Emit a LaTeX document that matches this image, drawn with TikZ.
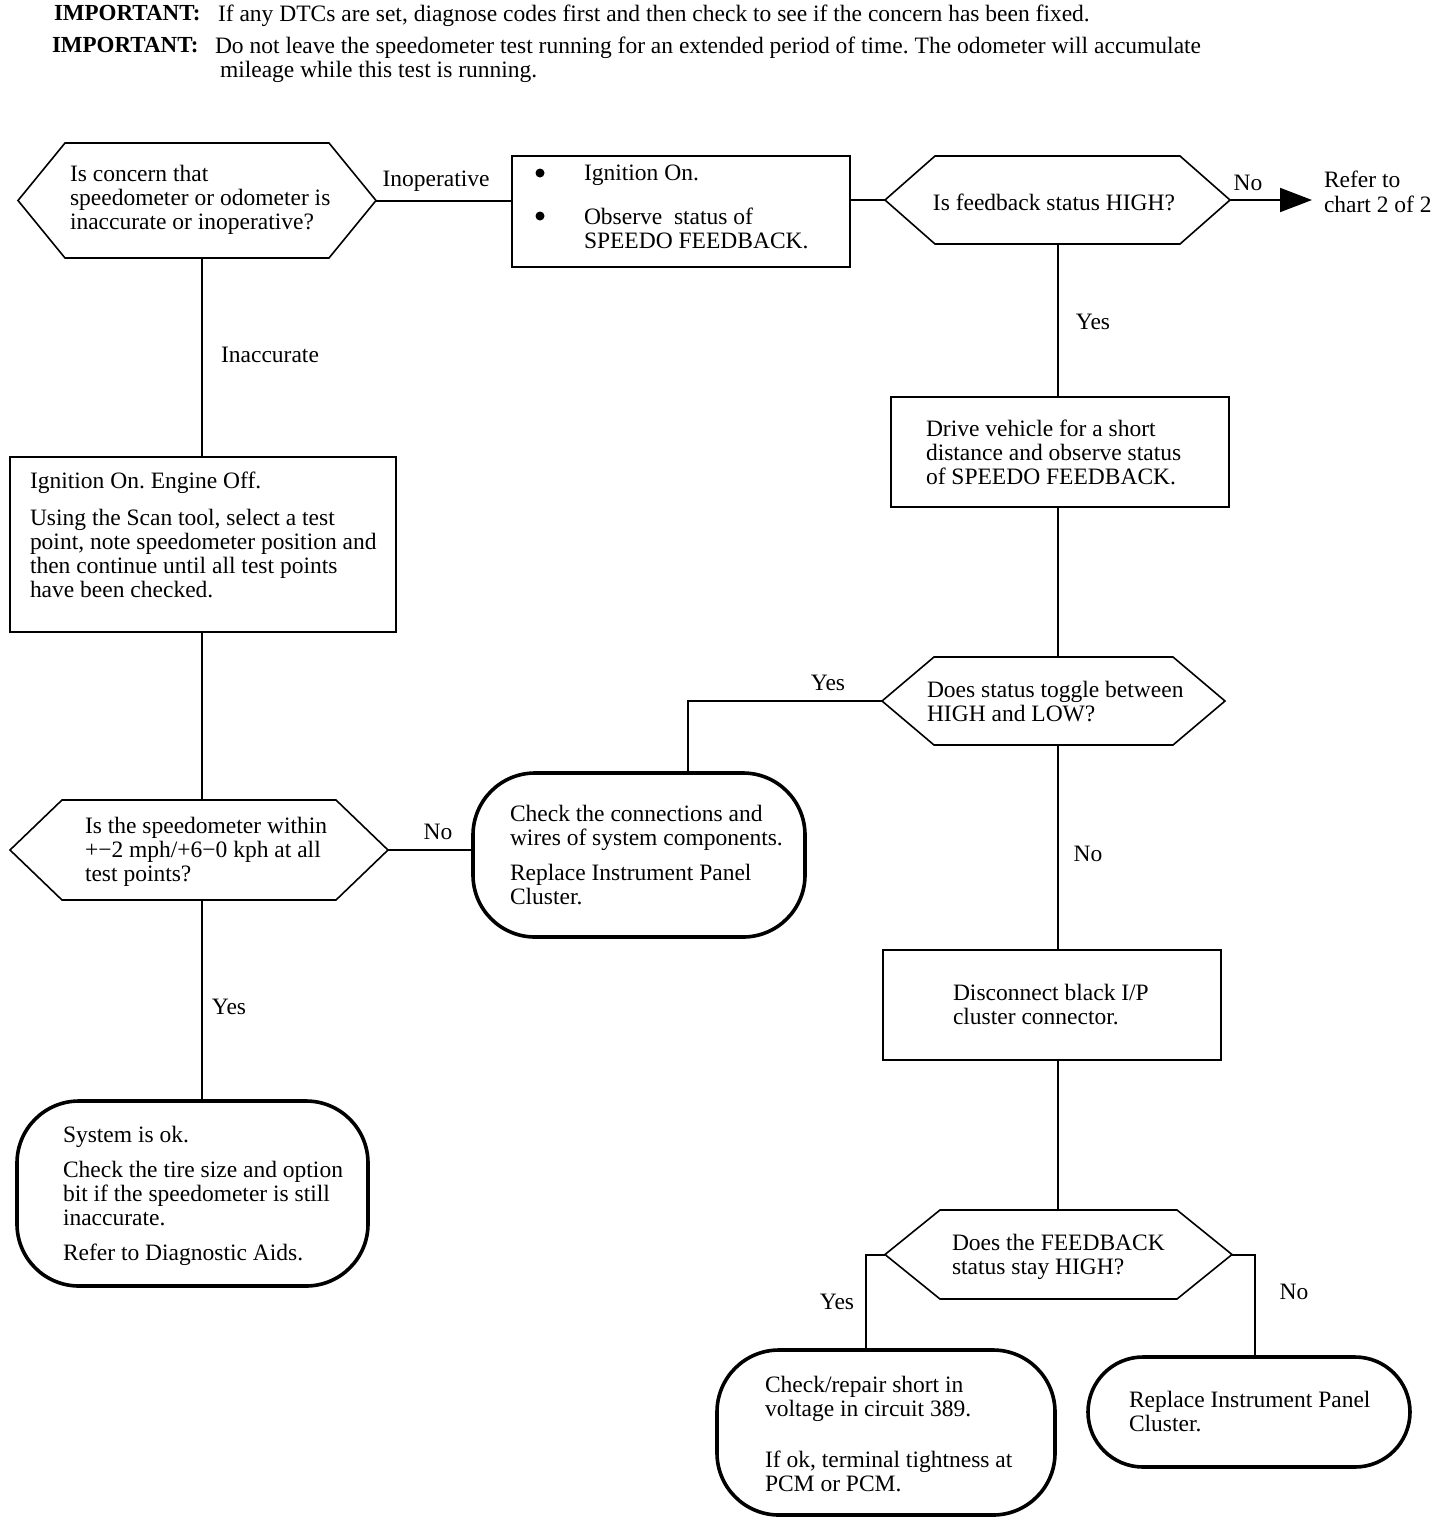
\documentclass[tikz,border=0pt]{standalone}
\usepackage{fontspec}
\setmainfont{Liberation Serif}
\frenchspacing
\usetikzlibrary{arrows.meta,calc}
\tikzset{
  boxline/.style={line width=1.6pt},
  conn/.style={line width=2pt},
  frame/.style={draw=none,inner sep=0pt,outer sep=0pt},
  sqbox/.style={draw,boxline,inner sep=0pt,outer sep=0pt},
  rbox/.style={draw,line width=3.6pt,rounded corners=55pt,inner sep=0pt,outer sep=0pt},
  txt/.style={inner sep=0pt,outer sep=0pt,align=left,anchor=north west,font=\fontsize{23.5}{24}\selectfont},
  lbl/.style={inner sep=0pt,outer sep=0pt,font=\fontsize{23.5}{24}\selectfont},
}
\newcommand\hexof[2]{\draw[boxline,line join=miter] (#1.west) -- ([xshift=#2]#1.north west) -- ([xshift=-#2]#1.north east) -- (#1.east) -- ([xshift=-#2]#1.south east) -- ([xshift=#2]#1.south west) -- cycle;}
\begin{document}
\begin{tikzpicture}[x=1pt,y=-1pt]
\useasboundingbox[fill=white] (0,0) rectangle (1440,1524);

% header
\node[txt,font=\fontsize{23}{24}\selectfont\bfseries] (imp1) at (54,5) {IMPORTANT:};
\node[txt] (imp1t) at (218,5) {If any DTCs are set, diagnose codes first and then check to see if the concern has been fixed.};
\node[txt,font=\fontsize{23}{24}\selectfont\bfseries] (imp2) at (52,37) {IMPORTANT:};
\node[txt] (imp2t) at (215,37) {Do not leave the speedometer test running for an extended period of time. The odometer will accumulate\\\hspace*{5pt}mileage while this test is running.};

% hexagon frames
\node[frame,minimum width=358,minimum height=115] (q1) at (197,200.5) {};
\node[frame,minimum width=345,minimum height=88] (q2) at (1057.5,200) {};
\node[frame,minimum width=343,minimum height=88] (q3) at (1053.5,701) {};
\node[frame,minimum width=347,minimum height=89] (q4) at (1058.5,1254.5) {};
\node[frame,minimum width=378,minimum height=100] (q5) at (199,850) {};
\hexof{q1}{47}
\hexof{q2}{50}
\hexof{q3}{52}
\hexof{q4}{55}
\hexof{q5}{52}

% rectangular boxes
\node[sqbox,minimum width=338,minimum height=111] (b1) at (681,211.5) {};
\node[sqbox,minimum width=386,minimum height=175] (b2) at (203,544.5) {};
\node[sqbox,minimum width=338,minimum height=110] (b3) at (1060,452) {};
\node[sqbox,minimum width=338,minimum height=110] (b4) at (1052,1005) {};

% rounded boxes
\node[rbox,rounded corners=62pt,minimum width=332,minimum height=164] (cc) at (639,855) {};
\node[rbox,rounded corners=62pt,minimum width=351,minimum height=185] (ok) at (192.5,1193.5) {};
\node[rbox,rounded corners=62pt,minimum width=338,minimum height=165] (cr) at (886,1432.5) {};
\node[rbox,minimum width=322,minimum height=110] (rp) at (1249,1412) {};

% texts
\node[txt] (q1t) at (70,165) {Is concern that\\speedometer or odometer is\\inaccurate or inoperative?};
\fill (540,173) circle[radius=4.5pt];
\fill (540,216) circle[radius=4.5pt];
\node[txt] (b1t) at (584,165) {Ignition On.\\[20pt]Observe\ \ status of\\SPEEDO FEEDBACK.};
\node[lbl] (q2t) at (1054,202) {Is feedback status HIGH?};
\node[txt,font=\fontsize{23.5}{25}\selectfont] (ref) at (1324,171) {Refer to\\chart 2 of 2};
\node[txt] (b3t) at (926,420) {Drive vehicle for a short\\distance and observe status\\of SPEEDO FEEDBACK.};
\node[txt] (q3t) at (927,681) {Does status toggle between\\HIGH and LOW?};
\node[txt] (b4t) at (953,984) {Disconnect black I/P\\cluster connector.};
\node[txt] (q4t) at (952,1234) {Does the FEEDBACK\\status stay HIGH?};
\node[txt] (b2t) at (30,472) {Ignition On. Engine Off.\\[13pt]Using the Scan tool, select a test\\point, note speedometer position and\\then continue until all test points\\have been checked.};
\node[txt] (q5t) at (85,817) {Is the speedometer within\\+−2 mph/+6−0 kph at all\\test points?};
\node[txt] (cct) at (510,805) {Check the connections and\\wires of system components.\\[11pt]Replace Instrument Panel\\Cluster.};
\node[txt] (okt) at (63,1126) {System is ok.\\[11pt]Check the tire size and option\\bit if the speedometer is still\\inaccurate.\\[11pt]Refer to Diagnostic Aids.};
\node[txt] (crt) at (765,1376) {Check/repair short in\\voltage in circuit 389.\\[27pt]If ok, terminal tightness at\\PCM or PCM.};
\node[txt] (rpt) at (1129,1391) {Replace Instrument Panel\\Cluster.};

% connector labels
\node[lbl] (l1) at (436,181) {Inoperative};
\node[lbl] (l2) at (270,355) {Inaccurate};
\node[lbl] (l3) at (1248,183) {No};
\node[lbl] (l4) at (1093,322) {Yes};
\node[lbl] (l5) at (828,683) {Yes};
\node[lbl] (l6) at (438,832) {No};
\node[lbl] (l7) at (1088,854) {No};
\node[lbl] (l8) at (229,1007) {Yes};
\node[lbl] (l9) at (837,1302) {Yes};
\node[lbl] (l10) at (1294,1292) {No};

% connectors
\coordinate (arrend) at (1312,200);
\draw[conn] (q1.east) -- (q1.east -| b1.west);
\draw[conn] (b1.east |- q2.west) -- (q2.west);
\draw[conn,-{Triangle[length=32pt,width=24pt]}] (q2.east) -- (arrend);
\draw[conn] (q2.south) -- (q2.south |- b3.north);
\draw[conn] (b3.south -| q2.south) -- (q2.south |- q3.north);
\draw[conn] (q3.west) -| (688,0 |- cc.north);
\draw[conn] (q2.south |- q3.south) -- (q2.south |- b4.north);
\draw[conn] (q2.south |- b4.south) -- (q2.south |- q4.north);
\draw[conn] (q4.west) -- ++(-19,0) coordinate (q4l) -- (q4l |- cr.north);
\draw[conn] (q4.east) -- ++(23,0) coordinate (q4r) -- (q4r |- rp.north);
\draw[conn] (q1.south -| 202,0) -- (202,0 |- b2.north);
\draw[conn] (202,0 |- b2.south) -- (202,0 |- q5.north);
\draw[conn] (q5.east) -- (q5.east -| cc.west);
\draw[conn] (202,0 |- q5.south) -- (202,0 |- ok.north);
\end{tikzpicture}
\end{document}
